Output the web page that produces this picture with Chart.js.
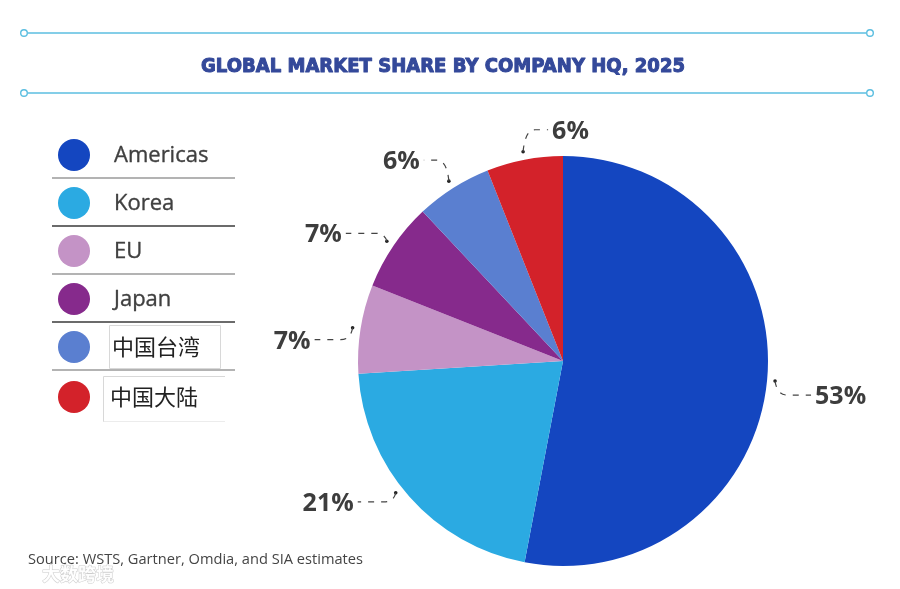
<!DOCTYPE html>
<html>
<head>
<meta charset="utf-8">
<script src="https://cdn.jsdelivr.net/npm/chart.js@4.4.1/dist/chart.umd.min.js"></script>
<style>
  html, body { margin: 0; padding: 0; background: #ffffff; }
  #wrap { position: relative; width: 900px; height: 589px; }
  canvas { display: block; }
</style>
</head>
<body>
<div id="wrap"><canvas id="c" width="900" height="589"></canvas></div>
<script>
// ---- Data ----
const categories = ['Americas', 'Korea', 'EU', 'Japan', '中国台湾', '中国大陆'];
const shareValues = [53, 21, 7, 7, 6, 6];
const shareLabels = ['53%', '21%', '7%', '7%', '6%', '6%'];
const sliceColors = ['#1446C0', '#2BAAE2', '#C493C6', '#862A8C', '#5A7FD0', '#D3222A'];
const chartTitle = 'GLOBAL MARKET SHARE BY COMPANY HQ, 2025';
const sourceNote = 'Source: WSTS, Gartner, Omdia, and SIA estimates';
const watermarkText = '大数跨境';

// ---- Decorations plugin (title, rules, legend, source) ----
const decorPlugin = {
  id: 'decor',
  beforeDraw(chart) {
    const ctx = chart.ctx;
    ctx.save();
    ctx.fillStyle = '#ffffff';
    ctx.fillRect(0, 0, chart.width, chart.height);

    // Title rules
    const ruleColor = '#5BBEE0';
    [33, 93].forEach(y => {
      ctx.strokeStyle = ruleColor;
      ctx.lineWidth = 1.4;
      ctx.beginPath();
      ctx.moveTo(28, y); ctx.lineTo(866, y); ctx.stroke();
      [24, 870].forEach(x => {
        ctx.beginPath();
        ctx.arc(x, y, 3.3, 0, Math.PI * 2);
        ctx.fillStyle = '#ffffff';
        ctx.fill();
        ctx.stroke();
      });
    });

    // Title text, fitted to width, thickened
    ctx.font = 'bold 20px "DejaVu Sans"';
    ctx.fillStyle = '#34499A';
    ctx.strokeStyle = '#34499A';
    ctx.lineWidth = 1.1;
    ctx.lineJoin = 'round';
    ctx.textBaseline = 'alphabetic';
    ctx.textAlign = 'left';
    const tw = ctx.measureText(chartTitle).width;
    const targetW = 484;
    ctx.save();
    ctx.translate(201, 71.5);
    ctx.scale(targetW / tw, 0.95);
    ctx.fillText(chartTitle, 0, 0);
    ctx.strokeText(chartTitle, 0, 0);
    ctx.restore();

    // Legend
    const rowY = [155, 203, 251, 299, 347, 397];
    const sepY = [178, 226, 274, 322, 370];
    sepY.forEach((y, i) => {
      ctx.strokeStyle = i % 2 === 0 ? '#9a9a9a' : '#3a3a3a';
      ctx.lineWidth = 1.3;
      ctx.beginPath();
      ctx.moveTo(52, y); ctx.lineTo(235, y); ctx.stroke();
    });
    // boxes around Chinese labels
    ctx.strokeStyle = '#d8d8d8';
    ctx.lineWidth = 1;
    ctx.strokeRect(109.5, 325.5, 111, 43);
    ctx.beginPath();
    ctx.moveTo(103.5, 422); ctx.lineTo(103.5, 376.5); ctx.lineTo(225, 376.5);
    ctx.stroke();
    ctx.strokeStyle = '#ececec';
    ctx.beginPath();
    ctx.moveTo(103.5, 421.5); ctx.lineTo(225, 421.5);
    ctx.stroke();

    categories.forEach((name, i) => {
      ctx.beginPath();
      ctx.arc(74, rowY[i], 16, 0, Math.PI * 2);
      ctx.fillStyle = sliceColors[i];
      ctx.fill();
      const isCJK = /[\u4e00-\u9fff]/.test(name);
      ctx.textBaseline = 'middle';
      if (isCJK) {
        ctx.fillStyle = '#222222';
        ctx.font = '22px "Noto Sans CJK SC"';
        ctx.fillText(name, i === 4 ? 112 : 110, rowY[i]);
      } else {
        ctx.fillStyle = '#404040';
        ctx.font = '22px "Open Sans"';
        ctx.strokeStyle = '#404040';
        ctx.lineWidth = 0.35;
        ctx.fillText(name, 114, rowY[i] + 1);
        ctx.strokeText(name, 114, rowY[i] + 1);
      }
    });

    // Source, fitted to width
    ctx.font = '15px "Open Sans"';
    ctx.fillStyle = '#444444';
    ctx.textBaseline = 'middle';
    const sw = ctx.measureText(sourceNote).width;
    ctx.save();
    ctx.translate(28, 560);
    ctx.scale(335 / sw, 1);
    ctx.fillText(sourceNote, 0, 0);
    ctx.restore();

    // Watermark (faint)
    ctx.font = 'bold 18px "Noto Sans CJK SC"';
    ctx.fillStyle = 'rgba(255,255,255,0.9)';
    ctx.strokeStyle = 'rgba(170,170,170,0.6)';
    ctx.lineWidth = 1;
    ctx.strokeText(watermarkText, 42, 574);
    ctx.fillText(watermarkText, 42, 574);
    ctx.restore();
  }
};

// ---- Leader-line labels plugin ----
const leaderPlugin = {
  id: 'leaders',
  afterDatasetsDraw(chart, args, opts) {
    const ctx = chart.ctx;
    const meta = chart.getDatasetMeta(0);
    ctx.save();
    meta.data.forEach((arc, i) => {
      const p = arc.getProps(['x', 'y', 'startAngle', 'endAngle', 'outerRadius'], true);
      const mid = (p.startAngle + p.endAngle) / 2 + opts.angleShift[i];
      const r = p.outerRadius + opts.dotGap;
      const dx0 = p.x + Math.cos(mid) * r;
      const dy0 = p.y + Math.sin(mid) * r;
      const [ox, oy] = opts.offsets[i];
      const s = ox >= 0 ? 1 : -1;
      const ly = dy0 + oy;
      const labelEdge = dx0 + ox;

      // dot
      ctx.fillStyle = '#222222';
      ctx.beginPath();
      ctx.arc(dx0, dy0, 1.8, 0, Math.PI * 2);
      ctx.fill();

      // dashed leader
      ctx.strokeStyle = '#444444';
      ctx.lineWidth = 1.2;
      ctx.setLineDash([6, 7]);
      ctx.beginPath();
      ctx.moveTo(dx0, dy0);
      ctx.quadraticCurveTo(dx0 + s * 2, ly, dx0 + s * 12, ly);
      ctx.lineTo(labelEdge - s * 4, ly);
      ctx.stroke();
      ctx.setLineDash([]);

      // label
      ctx.font = 'bold 25px "Open Sans"';
      ctx.fillStyle = '#3d3d3d';
      ctx.textBaseline = 'alphabetic';
      ctx.textAlign = s > 0 ? 'left' : 'right';
      ctx.fillText(shareLabels[i], labelEdge, ly + 9);
    });
    ctx.restore();
  }
};

new Chart(document.getElementById('c'), {
  type: 'pie',
  data: {
    labels: categories,
    datasets: [{
      data: shareValues,
      backgroundColor: sliceColors,
      borderWidth: 0
    }]
  },
  options: {
    responsive: false,
    animation: false,
    devicePixelRatio: 1,
    layout: { padding: { left: 358, right: 132, top: 156, bottom: 23 } },
    plugins: {
      legend: { display: false },
      tooltip: { enabled: false },
      title: { display: false },
      leaders: {
        dotGap: 8,
        angleShift: [0, 0.055, 0, 0, 0, 0],
        offsets: [[40, 14], [-42, 9], [-42, 12], [-45, -8], [-29, -21], [29, -22]]
      }
    }
  },
  plugins: [decorPlugin, leaderPlugin]
});
</script>
</body>
</html>
